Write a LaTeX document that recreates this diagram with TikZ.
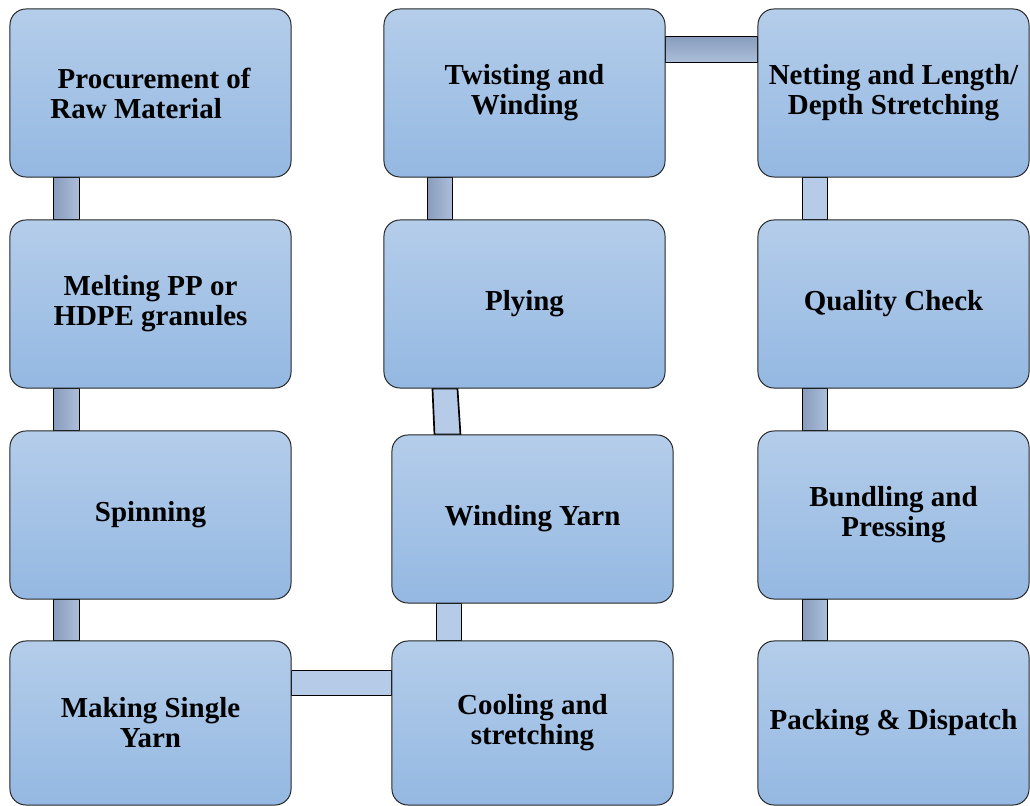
\documentclass[tikz,border=0pt]{standalone}
\usepackage{fontspec}
\setmainfont{Liberation Serif}
\usetikzlibrary{backgrounds,calc}

\definecolor{boxtop}{RGB}{180,205,234}
\definecolor{boxbot}{RGB}{148,184,226}
\definecolor{barflat}{RGB}{181,203,232}
\definecolor{bardark}{RGB}{136,156,188}
\definecolor{barlight}{RGB}{172,190,218}

\tikzset{
  stage/.style={draw=black!85, line width=0.7pt, rounded corners=0.4cm,
    top color=boxtop, bottom color=boxbot, minimum width=7.025cm,
    minimum height=4.2cm, align=center, inner sep=0pt,
    font=\bfseries\fontsize{20.6}{21.3}\selectfont},
  laststage/.style={stage, minimum height=4.1cm},
  flatbar/.style={draw=black, line width=1.2pt, fill=barflat},
  shadebar/.style={draw=black, line width=1.2pt, left color=bardark, right color=barlight},
}

\begin{document}
\begin{tikzpicture}[x=0.025cm,y=-0.025cm]

  \useasboundingbox (0,0) rectangle (1030,806);

  % first column
  \node[stage, align=left] (proc) at (150.5,93) {\hspace{0.25em}Procurement of\\Raw Material};
  \node[stage] (melt) at (150.5,304) {Melting PP or\\HDPE granules};
  \node[stage] (spin) at (150.5,515) {Spinning};
  \node[laststage] (yarn) at (150.5,723) {Making Single\\Yarn};

  % second column
  \node[laststage] (cool) at (532.5,723) {Cooling and\\stretching};
  \node[stage] (wind) at (532.5,519) {Winding Yarn};
  \node[stage] (ply) at (524.5,304) {Plying};
  \node[stage] (twist) at (524.5,93) {Twisting and\\Winding};

  % third column
  \node[stage, minimum width=6.775cm] (net) at (893.5,93) {Netting and Length/\\Depth Stretching};
  \node[stage, minimum width=6.775cm] (qual) at (893.5,304) {Quality Check};
  \node[stage, minimum width=6.775cm] (bund) at (893.5,515) {Bundling and\\Pressing};
  \node[laststage, minimum width=6.775cm] (pack) at (893.5,723) {Packing \& Dispatch};

  \begin{scope}[on background layer]
    \draw[shadebar] ($(proc.south west)+(44,0)$) rectangle ($(melt.north west)+(70,0)$);
    \draw[shadebar] ($(melt.south west)+(44,0)$) rectangle ($(spin.north west)+(70,0)$);
    \draw[shadebar] ($(spin.south west)+(44,0)$) rectangle ($(yarn.north west)+(70,0)$);
    \draw[flatbar] ($(yarn.north east)+(0,30)$) rectangle ($(cool.north west)+(0,55)$);
    \draw[flatbar] ($(wind.south west)+(45,0)$) rectangle ($(cool.north west)+(70,0)$);
    \draw[flatbar] ($(ply.south west)+(49,0)$) -- ($(ply.south west)+(74,0)$)
      -- ($(wind.north west)+(69,0)$) -- ($(wind.north west)+(43,0)$) -- cycle;
    \draw[shadebar] ($(twist.south west)+(44,0)$) rectangle ($(ply.north west)+(69,0)$);
    \draw[shadebar, top color=bardark, bottom color=barlight]
      ($(twist.north east)+(0,28)$) rectangle ($(net.north west)+(0,54)$);
    \draw[flatbar] ($(net.south west)+(45,0)$) rectangle ($(qual.north west)+(70,0)$);
    \draw[shadebar] ($(qual.south west)+(45,0)$) rectangle ($(bund.north west)+(70,0)$);
    \draw[shadebar] ($(bund.south west)+(45,0)$) rectangle ($(pack.north west)+(70,0)$);
  \end{scope}

\end{tikzpicture}
\end{document}
